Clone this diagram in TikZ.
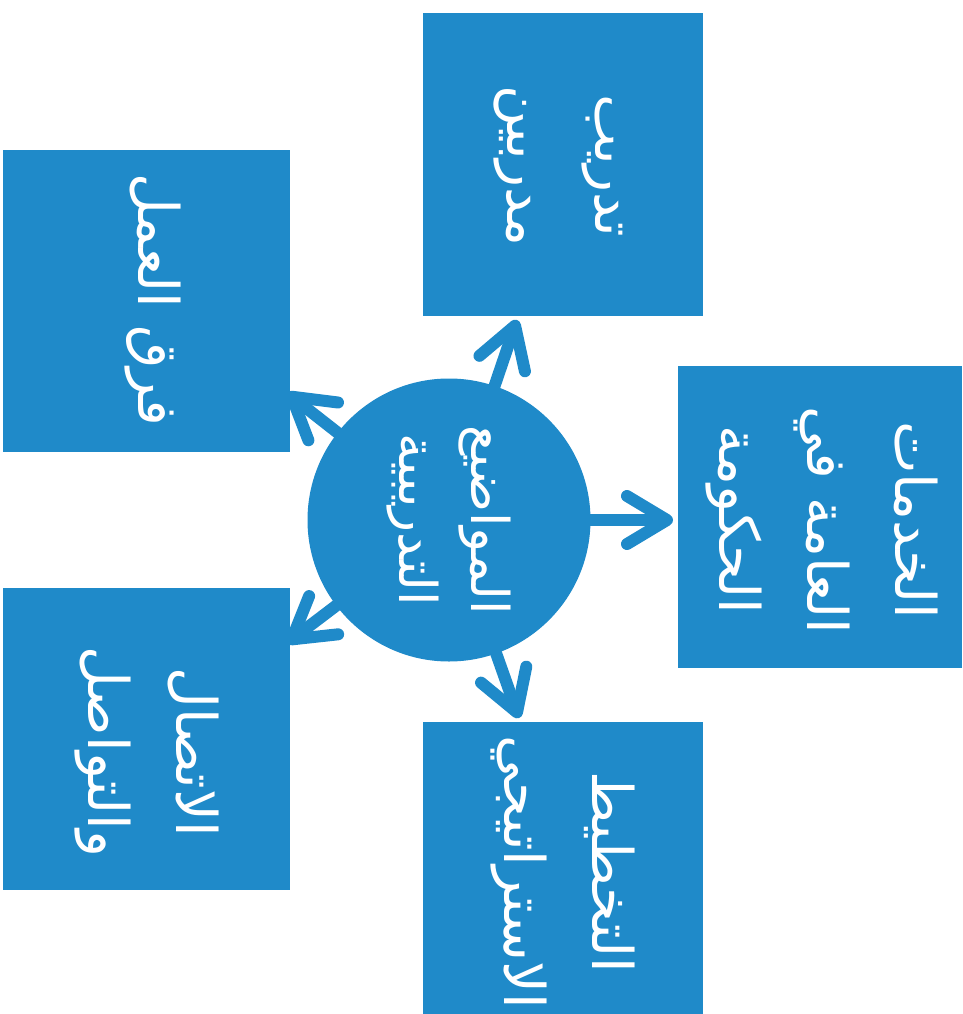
\documentclass[tikz,border=0pt]{standalone}
\usepackage{fontspec}
\newfontfamily\arabicfont[Script=Arabic]{DejaVu Sans}
\TeXXeTstate=1
\usetikzlibrary{arrows.meta}
\definecolor{boxblue}{RGB}{31,138,201}
\tikzset{
  box/.style={fill=boxblue, draw=none, inner sep=0pt},
  lbl/.style={text=white, rotate=-90, align=center, inner sep=0pt,
    font={\arabicfont\fontsize{56}{88}\selectfont}},
  clbl/.style={lbl, font={\arabicfont\fontsize{52}{72}\selectfont}},
  arr/.style={draw=boxblue, line width=12pt, line cap=round,
    -{Straight Barb[length=40pt, width=48pt, line cap=round, line join=round]}}
}
\begin{document}
\begin{tikzpicture}[x=1pt,y=-1pt]
\useasboundingbox (0,0) rectangle (963,1014);
\clip (0,0) rectangle (963,1014);
% centre
\node[circle, fill=boxblue, minimum size=283pt, inner sep=0pt] (c) at (449,520) {};
% arrow end points
\coordinate (tR) at (673,520);
\coordinate (tT) at (517,320);
\coordinate (tB) at (519,718);
\coordinate (tUL) at (287,393);
\coordinate (tLL) at (287,643);
\draw[arr] (c) -- (tR);
\draw[arr] (c) -- (tT);
\draw[arr] (c) -- (tB);
\draw[arr] (c) -- (tUL);
\draw[arr] (c) -- (tLL);
% boxes
\node[box, minimum width=280pt, minimum height=303pt] (bT) at (563,164.5) {};
\node[box, minimum width=287pt, minimum height=302pt] (bUL) at (146.5,301) {};
\node[box, minimum width=287pt, minimum height=302pt] (bLL) at (146.5,739) {};
\node[box, minimum width=284pt, minimum height=302pt] (bR) at (820,517) {};
\node[box, minimum width=280pt, minimum height=340pt] (bB) at (563,892) {};
% texts
\node[clbl] (xC) at (449,520) {\beginR المواضيع\endR\\\beginR التدريبية\endR};
\node[lbl] (xT) at (558,166) {\beginR تدريب\endR\\\beginR مدربين\endR};
\node[lbl] (xUL) at (153,300) {\beginR فرق العمل\endR};
\node[lbl] (xLL) at (147,752) {\beginR الاتصال\endR\\\beginR والتواصل\endR};
\node[lbl] (xR) at (822,520) {\beginR الخدمات\endR\\\beginR العامة في\endR\\\beginR الحكومة\endR};
\node[lbl] (xB) at (563,872) {\beginR التخطيط\endR\\\beginR الاستراتيجي\endR};
\end{tikzpicture}
\end{document}
